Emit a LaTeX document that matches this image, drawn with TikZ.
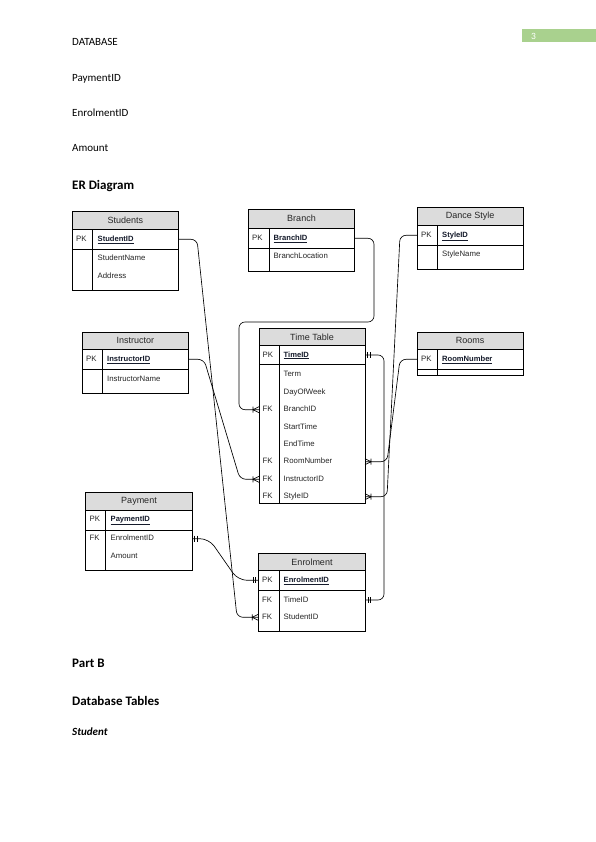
\documentclass[tikz,border=0pt]{standalone}
\usepackage{fontspec}
\setmainfont{Carlito}
\newfontfamily\erfont{Liberation Sans}
\usetikzlibrary{calc}
\definecolor{hdrgray}{HTML}{DCDCDC}
\definecolor{txtgray}{HTML}{262626}
\definecolor{pkcol}{HTML}{141A2A}
\definecolor{pagegreen}{HTML}{A9D18E}
\newcommand\ertable[9]{%
  \fill[hdrgray] (#3,#6) rectangle (#4,#7);
  \draw[tbl] (#3,#6) rectangle (#4,#9);
  \draw[tbl] (#3,#7) -- (#4,#7) (#3,#8) -- (#4,#8) (#5,#7) -- (#5,#9);
  \node[ttl] (#1) at ($(#3,#6)!0.5!(#4,#7)$) {#2};
}
\begin{document}
\begin{tikzpicture}[x=1pt,y=-1pt,
  tbl/.style={draw=black,line width=0.8pt},
  ttl/.style={font=\erfont\fontsize{9}{10}\selectfont,text=txtgray,inner sep=0pt},
  row/.style={font=\erfont\fontsize{7.8}{9}\selectfont,text=txtgray,anchor=west,inner sep=0pt,text height=5.8pt,text depth=1.8pt},
  pkf/.style={row,text=pkcol,font=\erfont\bfseries\fontsize{7.6}{9}\selectfont},
  body/.style={font=\fontsize{11}{13}\selectfont,anchor=base west,inner sep=0pt},
  head/.style={font=\bfseries\fontsize{13}{15}\selectfont,anchor=base west,inner sep=0pt},
  conn/.style={line width=0.65pt,rounded corners=6pt},
  mk/.style={line width=0.65pt},
  crow/.pic={\draw[mk] (0,-3) -- (-6,0) -- (0,3) (-6,-3) -- (-6,3);},
  mand/.pic={\draw[mk] (-2.5,-3) -- (-2.5,3) (-5,-3) -- (-5,3);}
]
\useasboundingbox (0,0) rectangle (596,842);
\fill[white] (0,0) rectangle (596,842);

% page number
\fill[pagegreen] (522,29.5) rectangle (596,42.5);
\node[font=\fontsize{9.5}{11}\selectfont,text=white,anchor=base west,inner sep=0pt] (pgno) at (531,39.5) {3};

% body text
\node[body] (t-db) at (72,46) {DATABASE};
\node[body] (t-pay) at (72,81.5) {PaymentID};
\node[body] (t-enr) at (72,116.5) {EnrolmentID};
\node[body] (t-amt) at (72,151.5) {Amount};
\node[head] (t-er) at (72,189.5) {ER Diagram};
\node[head] (t-pb) at (72,667.5) {Part B};
\node[head] (t-dbt) at (72,705.5) {Database Tables};
\node[body,font=\bfseries\itshape\fontsize{11}{13}\selectfont] (t-stu) at (72,735) {Student};

% Students
\ertable{stu}{Students}{72.3}{178.3}{92.7}{211.7}{229.3}{249.3}{290}
\node[row] (stu-pk) at (76,239.3) {PK};
\node[pkf] (stu-id) at (97.5,239.3) {\underline{StudentID}};
\node[row] (stu-name) at (97.5,258.7) {StudentName};
\node[row] (stu-addr) at (97.5,276) {Address};
\coordinate (stu-id-e) at (178.3,239.3);

% Branch
\ertable{br}{Branch}{248.3}{354.7}{269}{209}{228.3}{248.3}{271}
\node[row] (br-pk) at (252,238.3) {PK};
\node[pkf] (br-id) at (273.5,238.3) {\underline{BranchID}};
\node[row] (br-loc) at (273.5,256.7) {BranchLocation};
\coordinate (br-id-e) at (354.7,238.3);

% Dance Style
\ertable{ds}{Dance Style}{417}{523.3}{437.3}{207.7}{225.3}{245.3}{269.3}
\node[row] (ds-pk) at (421,235.3) {PK};
\node[pkf] (ds-id) at (442,235.3) {\underline{StyleID}};
\node[row] (ds-name) at (442,254.7) {StyleName};
\coordinate (ds-id-w) at (417,235.3);

% Instructor
\ertable{ins}{Instructor}{82.3}{188.3}{102.3}{332.3}{349.3}{369.3}{393.3}
\node[row] (ins-pk) at (86,359.3) {PK};
\node[pkf] (ins-id) at (107,359.3) {\underline{InstructorID}};
\node[row] (ins-name) at (107,379.3) {InstructorName};
\coordinate (ins-id-e) at (188.3,359.3);

% Rooms
\ertable{rm}{Rooms}{417}{523.3}{437.3}{332.3}{349.3}{369.3}{375}
\node[row] (rm-pk) at (421,359.3) {PK};
\node[pkf] (rm-id) at (442,359.3) {\underline{RoomNumber}};
\coordinate (rm-id-w) at (417,359.3);

% Time Table
\ertable{tt}{Time Table}{259}{365}{279}{328.3}{345.7}{364.3}{503.3}
\node[row] (tt-pk) at (262.5,355) {PK};
\node[pkf] (tt-id) at (283.5,355) {\underline{TimeID}};
\node[row] (tt-term) at (283.5,374.3) {Term};
\node[row] (tt-dow) at (283.5,392) {DayOfWeek};
\node[row] (tt-fk1) at (262.5,409.7) {FK};
\node[row] (tt-br) at (283.5,409.7) {BranchID};
\node[row] (tt-start) at (283.5,427.3) {StartTime};
\node[row] (tt-end) at (283.5,444.3) {EndTime};
\node[row] (tt-fk2) at (262.5,461.7) {FK};
\node[row] (tt-rm) at (283.5,461.7) {RoomNumber};
\node[row] (tt-fk3) at (262.5,479.3) {FK};
\node[row] (tt-ins) at (283.5,479.3) {InstructorID};
\node[row] (tt-fk4) at (262.5,496.7) {FK};
\node[row] (tt-st) at (283.5,496.7) {StyleID};
\coordinate (tt-id-e) at (365,355);
\coordinate (tt-br-w) at (259,409.7);
\coordinate (tt-rm-e) at (365,461.7);
\coordinate (tt-ins-w) at (259,479.3);
\coordinate (tt-st-e) at (365,496.7);

% Payment
\ertable{pay}{Payment}{85.7}{192.3}{105.7}{492.7}{510}{530}{570}
\node[row] (pay-pk) at (89.5,519.7) {PK};
\node[pkf] (pay-id) at (110.5,519.7) {\underline{PaymentID}};
\node[row] (pay-fk) at (89.5,538.7) {FK};
\node[row] (pay-eid) at (110.5,538.7) {EnrolmentID};
\node[row] (pay-amt) at (110.5,556) {Amount};
\coordinate (pay-eid-e) at (192.3,538.7);

% Enrolment
\ertable{enr}{Enrolment}{258.3}{365.7}{279}{553.3}{570.7}{590}{631}
\node[row] (enr-pk) at (262,580.3) {PK};
\node[pkf] (enr-id) at (283.5,580.3) {\underline{EnrolmentID}};
\node[row] (enr-fk1) at (262,600) {FK};
\node[row] (enr-tid) at (283.5,600) {TimeID};
\node[row] (enr-fk2) at (262,617.3) {FK};
\node[row] (enr-sid) at (283.5,617.3) {StudentID};
\coordinate (enr-id-w) at (258.3,580.3);
\coordinate (enr-tid-e) at (365.7,600);
\coordinate (enr-sid-w) at (258.3,617.3);

% connectors
\draw[conn] (stu-id-e) -- (197,239.3) -- (237,617.3) -- (enr-sid-w);
\draw[conn] (ins-id-e) -- (204,359.3) -- (240,479.3) -- (tt-ins-w);
\draw[conn] (br-id-e) -- (374,238.3) -- (374,322) -- (239,322) -- (239,409.7) -- (tt-br-w);
\draw[conn] (ds-id-w) -- (400,235.3) -- (387,496.7) -- (tt-st-e);
\draw[conn] (rm-id-w) -- (400,359.3) -- (387,461.7) -- (tt-rm-e);
\draw[conn] (tt-id-e) -- (384,355) -- (384,600) -- (enr-tid-e);
\draw[conn,rounded corners=9pt] (pay-eid-e) -- (209,538.7) -- (238,580.3) -- (enr-id-w);

% end marks
\pic at (tt-br-w) {crow};
\pic at (tt-ins-w) {crow};
\pic at (enr-sid-w) {crow};
\pic[xscale=-1] at (tt-rm-e) {crow};
\pic[xscale=-1] at (tt-st-e) {crow};
\pic[xscale=-1] at (tt-id-e) {mand};
\pic[xscale=-1] at (enr-tid-e) {mand};
\pic[xscale=-1] at (pay-eid-e) {mand};
\pic at (enr-id-w) {mand};
\end{tikzpicture}
\end{document}
